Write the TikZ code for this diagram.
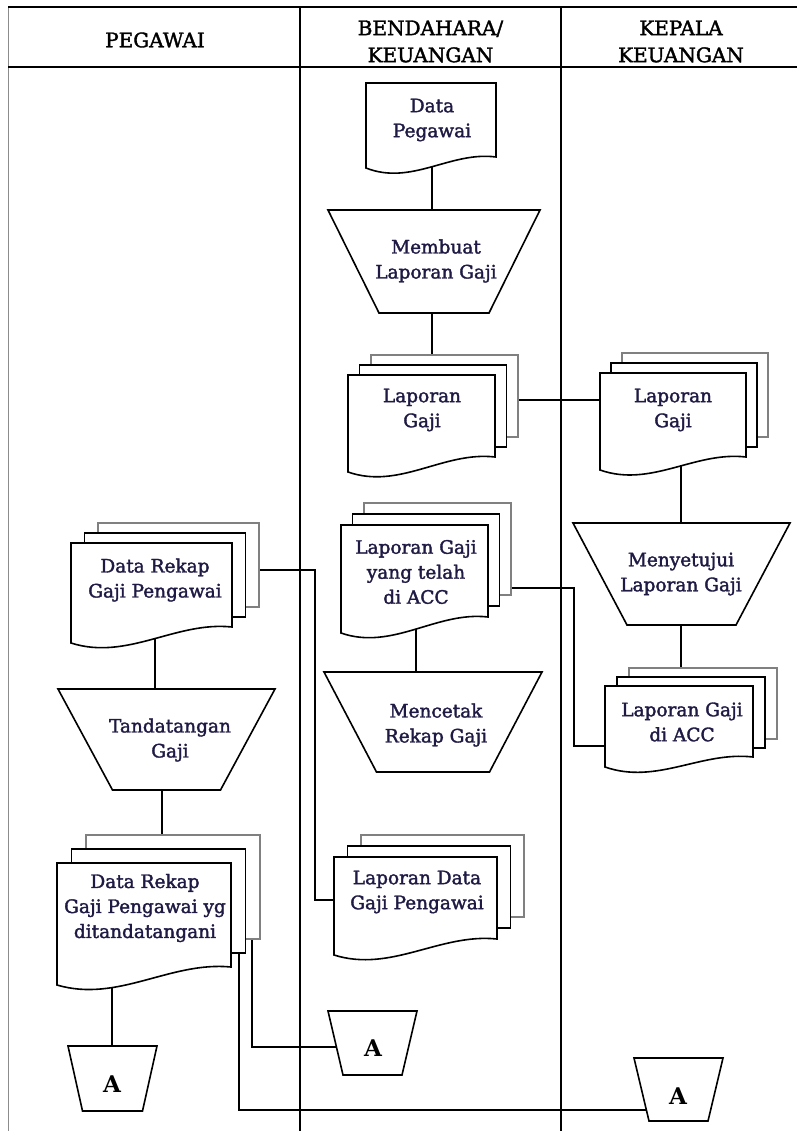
\documentclass[tikz,border=0pt]{standalone}
\usepackage{fontspec}
\setmainfont{DejaVu Serif}
\newfontfamily\lblfont{DejaVu Serif}[FakeBold=1.8]
\usetikzlibrary{calc}
\pgfdeclarelayer{bg}
\pgfsetlayers{bg,main}
\definecolor{ink}{RGB}{30,26,68}

\tikzset{
  lane/.style={draw=black, line width=1.6pt},
  border/.style={draw=black!45, line width=1pt},
  conn/.style={draw=black, line width=1.6pt},
  sheet/.style={draw=black, line width=1.6pt, fill=white},
  sheetmid/.style={draw=black, line width=1.6pt, fill=white},
  sheetback/.style={draw=black!50, line width=1.5pt, fill=white},
  proc/.style={draw=black, line width=1.6pt, fill=white},
  label/.style={text=ink, font=\lblfont\fontsize{18.5}{25}\selectfont, align=center, inner sep=0pt},
  head/.style={text=black, font=\lblfont\fontsize{20}{27}\selectfont, align=center, inner sep=0pt},
  offtext/.style={text=black, font=\fontsize{23}{26}\selectfont\bfseries, inner sep=0pt},
}

% single document sheet: left, top, width, left height, right height, style
\newcommand{\docpage}[6]{%
  \draw[#6] (#1,#2) -- ({#1+#3},#2) -- ({#1+#3},{#2+#5})
    .. controls ({#1+0.65*#3},{#2+#5-6}) and ({#1+0.35*#3},{#2+#4+18}) .. (#1,{#2+#4}) -- cycle;
}
% stack of three sheets: left, top, width, left height, right height, dx, dy
\newcommand{\docstack}[7]{%
  \draw[sheetback] ({#1+2*#6},{#2-2*#7}) rectangle ({#1+#3+2*#6},{#2+#5-2*#7});
  \draw[sheetmid] ({#1+#6},{#2-#7}) rectangle ({#1+#3+#6},{#2+#5-#7});
  \docpage{#1}{#2}{#3}{#4}{#5}{sheet}
}
% trapezoid, wide side up: centre x, top, top width, bottom width, bottom, style
\newcommand{\proctrap}[6]{%
  \draw[#6] ({#1-#3/2},#2) -- ({#1+#3/2},#2) -- ({#1+#4/2},#5) -- ({#1-#4/2},#5) -- cycle;
}

\begin{document}
\begin{tikzpicture}[x=1pt,y=-1pt]
\useasboundingbox (0,0) rectangle (797,1131);

% swimlane frame
\draw[border] (8,7) -- (8,1131);
\draw[lane] (8,7) -- (797,7);
\draw[lane] (8,67) -- (797,67);
\draw[lane] (300,7) -- (300,1131);
\draw[lane] (561,7) -- (561,1131);

\node[head] (h1) at (155,40) {PEGAWAI};
\node[head] (h2) at (430.5,41.5) {BENDAHARA/\\KEUANGAN};
\node[head] (h3) at (681,41.5) {KEPALA\\KEUANGAN};

% BENDAHARA / KEUANGAN lane
\docpage{366}{83}{130}{85}{74}{sheet}
\node[label] (dp) at (432,120) {Data\\Pegawai};

\proctrap{434}{210}{212}{110}{313}{proc}
\node[label] (mb) at (436,261) {Membuat\\Laporan Gaji};

\docstack{348}{375}{147}{97}{82}{11.5}{10}
\node[label] (lg) at (422,410) {Laporan\\Gaji};

\docstack{341}{525}{147}{108}{92}{11.5}{11}
\node[label] (lyt) at (416,572) {Laporan Gaji\\yang telah\\di ACC};

\proctrap{433}{672}{218}{113}{772}{proc}
\node[label] (mc) at (436,725) {Mencetak\\Rekap Gaji};

\docstack{334}{857}{163}{98}{82}{13.5}{11}
\node[label] (ld) at (417,892) {Laporan Data\\Gaji Pengawai};

\proctrap{372.5}{1011}{89}{59}{1075}{proc}
\node[offtext] (a2) at (373,1048) {A};

% KEPALA KEUANGAN lane
\docstack{600}{373}{146}{97}{84}{11}{10}
\node[label] (lgr) at (673,410) {Laporan\\Gaji};

\proctrap{681.5}{523}{217}{109}{625}{proc}
\node[label] (ms) at (681,574) {Menyetujui\\Laporan Gaji};

\docstack{605}{686}{148}{81}{71}{12}{9}
\node[label] (acc) at (682,722) {Laporan Gaji\\di ACC};

\proctrap{678.5}{1058}{89}{59}{1121}{proc}
\node[offtext] (a3) at (678,1096) {A};

% PEGAWAI lane
\docstack{71}{543}{161}{100}{84}{13.5}{10}
\node[label] (dr) at (155,580) {Data Rekap\\Gaji Pengawai};

\proctrap{166.5}{689}{217}{108}{790}{proc}
\node[label] (tt) at (170,740) {Tandatangan\\Gaji};

\docstack{57}{863}{174}{122}{104}{14.5}{14}
\node[label] (dry) at (145,908) {Data Rekap\\Gaji Pengawai yg\\ditandatangani};

\proctrap{112.5}{1046}{89}{60}{1111}{proc}
\node[offtext] (a1) at (112,1084) {A};

% bend points of the connectors
\coordinate (jlg) at (518,400);
\coordinate (jly) at (574,588);
\coordinate (jlyb) at (574,746);
\coordinate (jdr) at (315,570);
\coordinate (jdrb) at (315,900);
\coordinate (jtt) at (162,790);
\coordinate (ja2) at (252,1047);
\coordinate (ja3) at (239,1110);

% connectors, kept behind the symbols
\begin{pgfonlayer}{bg}
\draw[conn] (dp) -- (dp |- mb);
\draw[conn] (dp |- mb) -- (dp |- lg);
\draw[conn] (lg |- jlg) -- (lgr |- jlg);
\draw[conn] (ms |- lgr) -- (ms);
\draw[conn] (ms) -- (ms |- acc);
\draw[conn] (lyt) -- (lyt |- mc);
\draw[conn] (lyt |- jly) -- (jly) -- (jlyb) -- (acc |- jlyb);
\draw[conn] (dr) -- (dr |- tt);
\draw[conn] (dr |- jdr) -- (jdr) -- (jdrb) -- (ld |- jdrb);
\draw[conn] (jtt |- tt) -- (jtt |- dry);
\draw[conn] (a1 |- dry) -- (a1);
\draw[conn] (ja2 |- dry) -- (ja2) -- (a2 |- ja2);
\draw[conn] (ja3 |- dry) -- (ja3) -- (a3 |- ja3);
\end{pgfonlayer}
\end{tikzpicture}
\end{document}
